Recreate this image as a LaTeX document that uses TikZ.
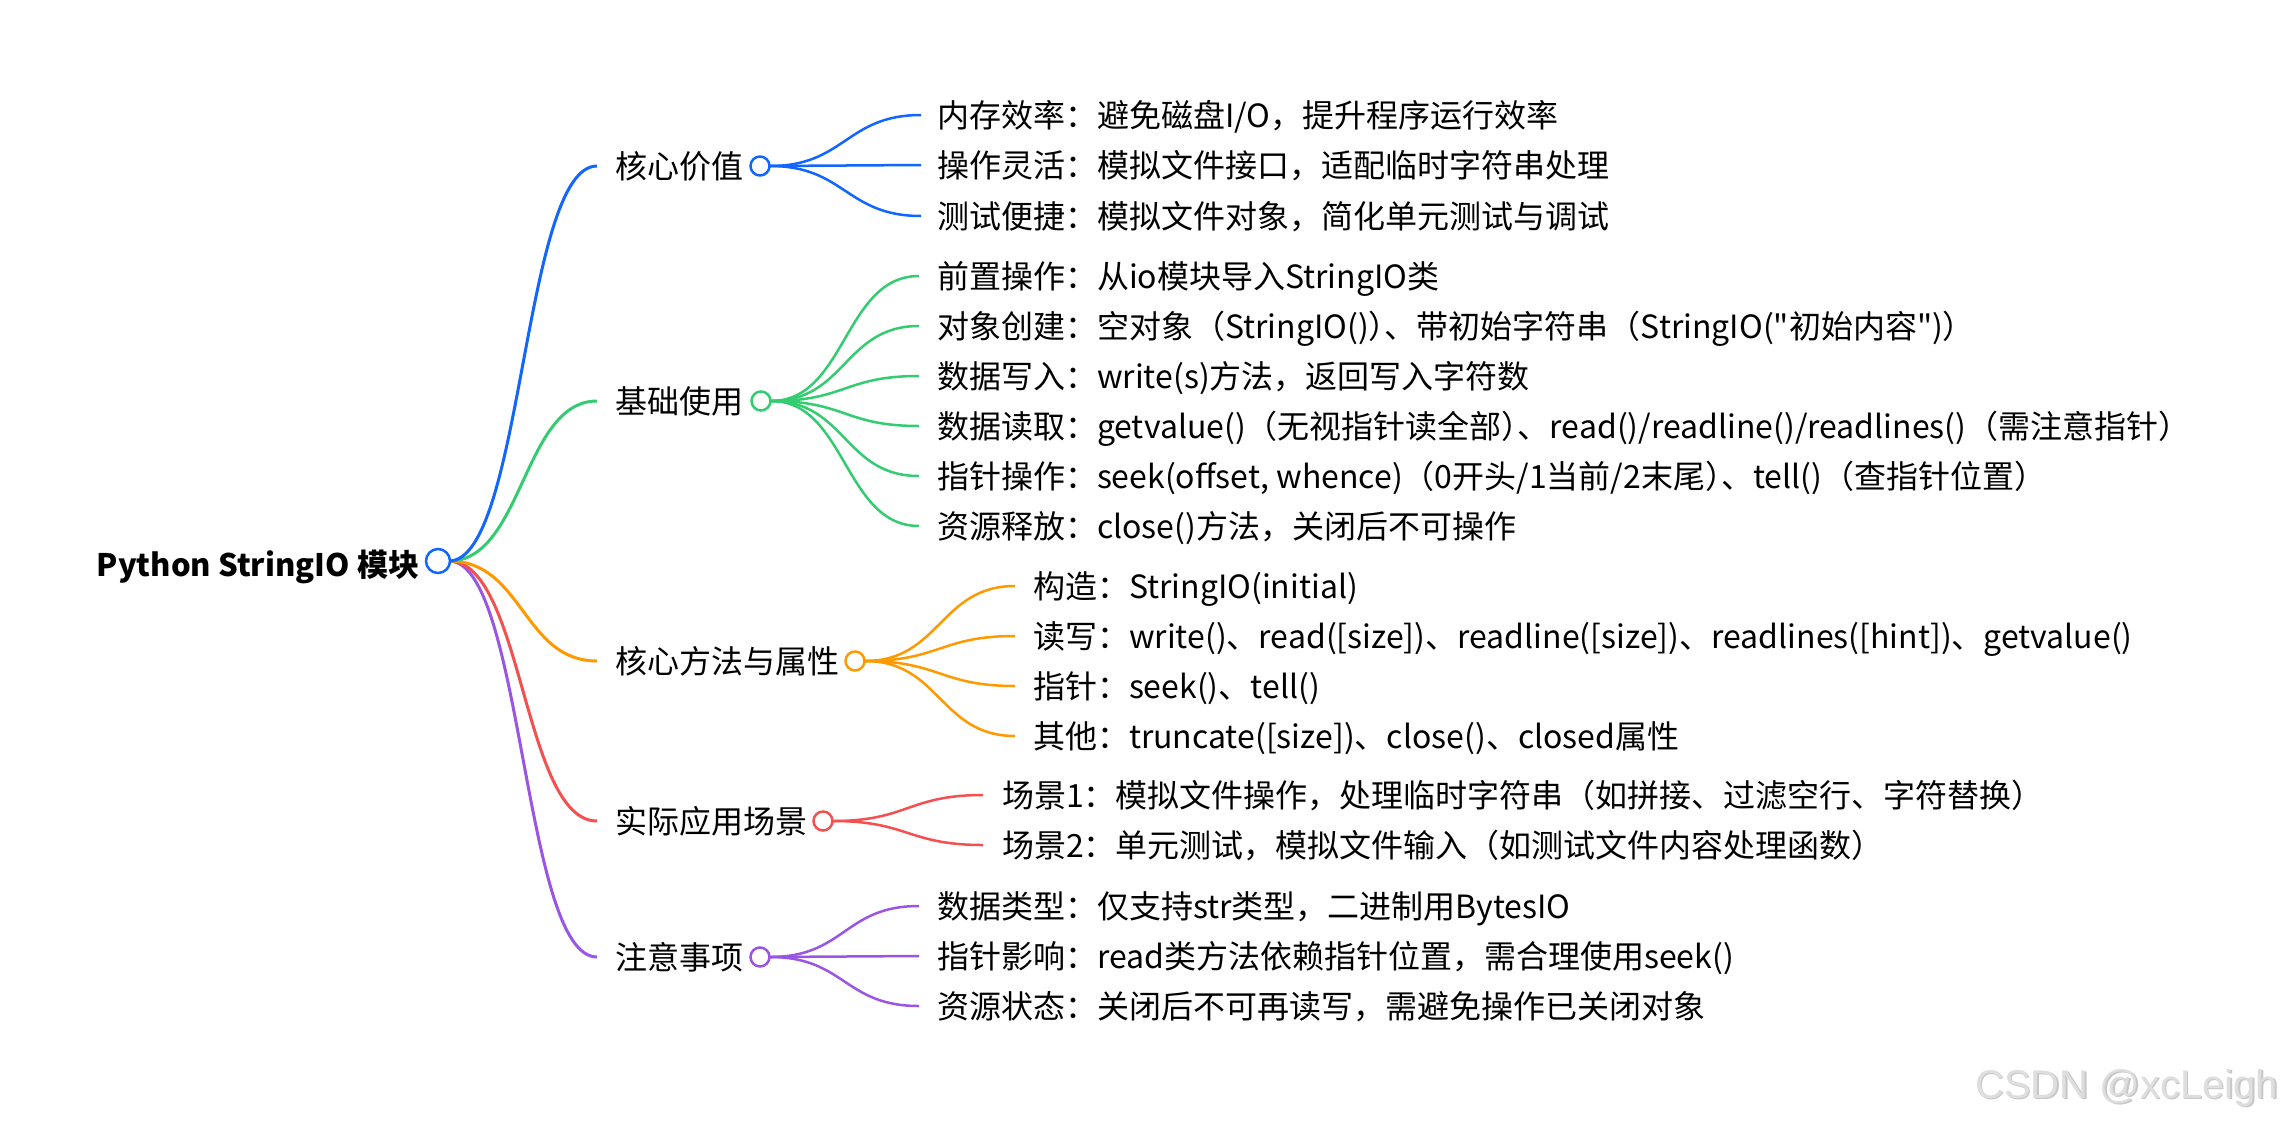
\documentclass[tikz,border=0pt]{standalone}
\usepackage{fontspec}
\newfontfamily\cjkf{Noto Sans CJK SC}
\newfontfamily\wmfont{Liberation Sans}
\definecolor{cblue}{RGB}{17,102,255}
\definecolor{cgreen}{RGB}{51,204,112}
\definecolor{corange}{RGB}{255,153,0}
\definecolor{cred}{RGB}{245,80,80}
\definecolor{cpurple}{RGB}{153,85,230}
\definecolor{wmgray}{RGB}{222,222,222}
\newcommand{\pairtrim}{\kern-16pt}
\tikzset{
  lbl/.style={anchor=base west, inner sep=0pt, outer sep=0pt, font=\cjkf\fontsize{32}{38}\selectfont, text=black},
  rootlbl/.style={anchor=base east, inner sep=0pt, outer sep=0pt, font=\cjkf\fontsize{31}{37}\selectfont\bfseries, text=black},
  dotn/.style={circle, draw, fill=white, line width=2.5pt, minimum size=19pt, inner sep=0pt, outer sep=0pt},
  rootdot/.style={dotn, minimum size=24pt},
  lnkA/.style={line width=3pt},
  lnkB/.style={line width=2.5pt},
}
\begin{document}
\begin{tikzpicture}[x=1pt, y=-1pt]
\useasboundingbox (0,0) rectangle (2288,1122);
\fill[white] (0,0) rectangle (2288,1122);

% root
\node[rootlbl] (root) at (419,576) {Python StringIO 模块};
\coordinate (r0) at (438,561);

% level 1 link ends
\coordinate (e1) at (597,166);
\coordinate (e2) at (597,401);
\coordinate (e3) at (597,661);
\coordinate (e4) at (597,821);
\coordinate (e5) at (597,957);

% level 1 labels
\node[lbl] (t1) at (615,178) {核心价值};
\node[lbl] (t2) at (615,413) {基础使用};
\node[lbl] (t3) at (615,673) {核心方法与属性};
\node[lbl] (t4) at (615,833) {实际应用场景};
\node[lbl] (t5) at (615,969) {注意事项};

% level 1 circles positions
\coordinate (p1) at (760,166);
\coordinate (p2) at (761,401);
\coordinate (p3) at (855,661);
\coordinate (p4) at (823,821);
\coordinate (p5) at (760,957);

% blue
\coordinate (e11) at (921,115);
\coordinate (e12) at (921,165);
\coordinate (e13) at (921,216);
\node[lbl] (t11) at (937,127) {内存效率：避免磁盘I/O，提升程序运行效率};
\node[lbl] (t12) at (937,177) {操作灵活：模拟文件接口，适配临时字符串处理};
\node[lbl] (t13) at (937,228) {测试便捷：模拟文件对象，简化单元测试与调试};
% green
\coordinate (e21) at (919,276);
\coordinate (e22) at (919,326);
\coordinate (e23) at (919,376);
\coordinate (e24) at (919,426);
\coordinate (e25) at (919,476);
\coordinate (e26) at (919,526);
\node[lbl] (t21) at (937,288) {前置操作：从io模块导入StringIO类};
\node[lbl] (t22) at (937,338) {对象创建：空对象（StringIO()）\pairtrim、带初始字符串（StringIO("初始内容")）};
\node[lbl] (t23) at (937,388) {数据写入：write(s)方法，返回写入字符数};
\node[lbl] (t24) at (937,438) {数据读取：getvalue()（无视指针读全部）\pairtrim、read()/readline()/readlines()（需注意指针）};
\node[lbl] (t25) at (937,488) {指针操作：seek(offset, whence)（0开头/1当前/2末尾）\pairtrim、tell()（查指针位置）};
\node[lbl] (t26) at (937,538) {资源释放：close()方法，关闭后不可操作};
% orange
\coordinate (e31) at (1015,586);
\coordinate (e32) at (1015,636);
\coordinate (e33) at (1015,686);
\coordinate (e34) at (1015,736);
\node[lbl] (t31) at (1033,598) {构造：StringIO(initial)};
\node[lbl] (t32) at (1033,648) {读写：write()、read([size])、readline([size])、readlines([hint])、getvalue()};
\node[lbl] (t33) at (1033,698) {指针：seek()、tell()};
\node[lbl] (t34) at (1033,748) {其他：truncate([size])、close()、closed属性};
% red
\coordinate (e41) at (983,795);
\coordinate (e42) at (983,845);
\node[lbl] (t41) at (1002,807) {场景1：模拟文件操作，处理临时字符串（如拼接、过滤空行、字符替换）};
\node[lbl] (t42) at (1002,857) {场景2：单元测试，模拟文件输入（如测试文件内容处理函数）};
% purple
\coordinate (e51) at (919,906);
\coordinate (e52) at (919,956);
\coordinate (e53) at (919,1006);
\node[lbl] (t51) at (937,918) {数据类型：仅支持str类型，二进制用BytesIO};
\node[lbl] (t52) at (937,968) {指针影响：read类方法依赖指针位置，需合理使用seek()};
\node[lbl] (t53) at (937,1018) {资源状态：关闭后不可再读写，需避免操作已关闭对象};

% root links
\draw[lnkA, cpurple] (r0) ++(11,0) .. controls +(74,0) and +(-74,0) .. (e5);
\draw[lnkA, cred] (r0) ++(11,0) .. controls +(74,0) and +(-74,0) .. (e4);
\draw[lnkA, corange] (r0) ++(11,0) .. controls +(74,0) and +(-74,0) .. (e3);
\draw[lnkA, cgreen] (r0) ++(11,0) .. controls +(74,0) and +(-74,0) .. (e2);
\draw[lnkA, cblue] (r0) ++(11,0) .. controls +(74,0) and +(-74,0) .. (e1);

% level 2 links
\foreach \i in {1,2,3}{
  \draw[lnkB, cblue] (p1) ++(10,0) .. controls +(75,0) and +(-75,0) .. (e1\i);
}
\foreach \i in {1,...,6}{
  \draw[lnkB, cgreen] (p2) ++(10,0) .. controls +(75,0) and +(-75,0) .. (e2\i);
}
\foreach \i in {1,...,4}{
  \draw[lnkB, corange] (p3) ++(10,0) .. controls +(75,0) and +(-75,0) .. (e3\i);
}
\foreach \i in {1,2}{
  \draw[lnkB, cred] (p4) ++(10,0) .. controls +(75,0) and +(-75,0) .. (e4\i);
}
\foreach \i in {1,2,3}{
  \draw[lnkB, cpurple] (p5) ++(10,0) .. controls +(75,0) and +(-75,0) .. (e5\i);
}

% circles
\node[rootdot, draw=cblue] (c0) at (r0) {};
\node[dotn, draw=cblue] (c1) at (p1) {};
\node[dotn, draw=cgreen] (c2) at (p2) {};
\node[dotn, draw=corange] (c3) at (p3) {};
\node[dotn, draw=cred] (c4) at (p4) {};
\node[dotn, draw=cpurple] (c5) at (p5) {};

% watermark
\node[anchor=base west, inner sep=0pt, font=\wmfont\fontsize{40}{48}\selectfont, text=black!22] (wms) at (1976.5,1099.5) {CSDN @xcLeigh};
\node[anchor=base west, inner sep=0pt, font=\wmfont\fontsize{40}{48}\selectfont, text=wmgray] (wm) at (1975,1098) {CSDN @xcLeigh};
\end{tikzpicture}
\end{document}
